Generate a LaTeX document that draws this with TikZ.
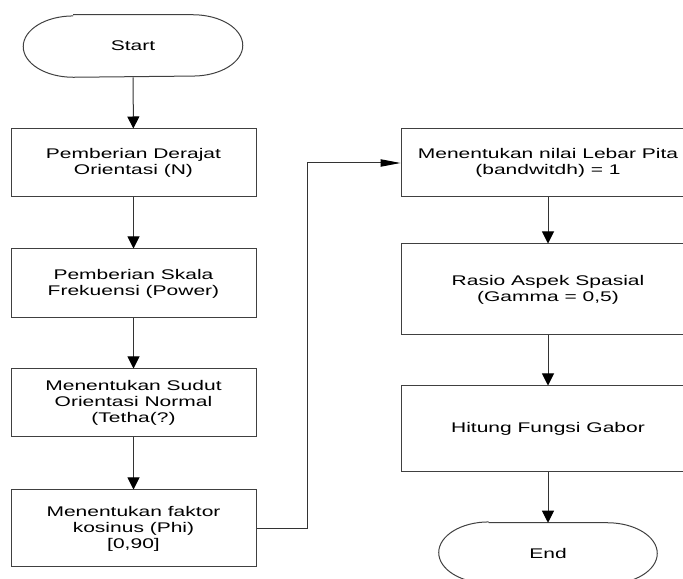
\documentclass[tikz,border=0pt]{standalone}
\usepackage{fontspec}
\setmainfont[FakeStretch=1.5]{Liberation Sans}
\usetikzlibrary{arrows.meta}

\begin{document}
\begin{tikzpicture}[x=0.75pt, y=0.75pt,
                txt/.style = {align=center, font=\fontsize{10.5}{12}\selectfont},
                box/.style = {txt, draw=black!75, line width=0.75pt},
                flow/.style = {draw=black!80, line width=0.75pt, -{Triangle[length=9pt, width=9pt, black]}},
                side/.style = {draw=black!80, line width=0.75pt, -{Triangle[length=15pt, width=5.5pt, black]}}]
                \useasboundingbox (0,0) rectangle (683,579);
                \node[txt, minimum width=164.25pt, minimum height=46.5pt] (start) at (133,533) {Start};
                \node[box, minimum width=183.75pt, minimum height=51pt] (derajat) at (133.5,416) {Pemberian Derajat\\Orientasi (N)};
                \node[box, minimum width=183.75pt, minimum height=51.75pt] (skala) at (133.5,295.5) {Pemberian Skala\\Frekuensi (Power)};
                \node[box, minimum width=183.75pt, minimum height=51pt] (sudut) at (133.5,176) {Menentukan Sudut\\Orientasi Normal\\(Tetha(?)};
                \node[box, minimum width=183.75pt, minimum height=57.75pt] (kosinus) at (133.5,50.5) {Menentukan faktor\\kosinus (Phi)\\{[0,90]}};
                \node[box, minimum width=220.5pt, minimum height=51pt] (lebar) at (548,416) {Menentukan nilai Lebar Pita\\(bandwitdh) = 1};
                \node[box, minimum width=220.5pt, minimum height=68.25pt] (rasio) at (548,289.5) {Rasio Aspek Spasial\\(Gamma = 0,5)};
                \node[box, minimum width=220.5pt, minimum height=64.5pt] (hitung) at (548,150) {Hitung Fungsi Gabor};
                \node[txt, minimum width=163.5pt, minimum height=45pt] (stop) at (548,26) {End};
                \foreach \t in {start, stop}
                  \draw[black!75, line width=0.75pt] ([xshift=37.5pt]\t.north west) -- ([xshift=-37.5pt]\t.north east)
                    arc[start angle=90, end angle=-90, x radius=37.5pt, y radius=23pt]
                    -- ([xshift=37.5pt]\t.south west)
                    arc[start angle=270, end angle=90, x radius=37.5pt, y radius=23pt];
                \draw[flow] (start) -- (derajat);
                \draw[flow] (derajat) -- (skala);
                \draw[flow] (skala) -- (sudut);
                \draw[flow] (sudut) -- (kosinus);
                \draw[side] (kosinus.east) -- ++(51,0) |- (lebar.west);
                \draw[flow] (lebar) -- (rasio);
                \draw[flow] (rasio) -- (hitung);
                \draw[flow] (hitung) -- (stop);
\end{tikzpicture}
\end{document}
